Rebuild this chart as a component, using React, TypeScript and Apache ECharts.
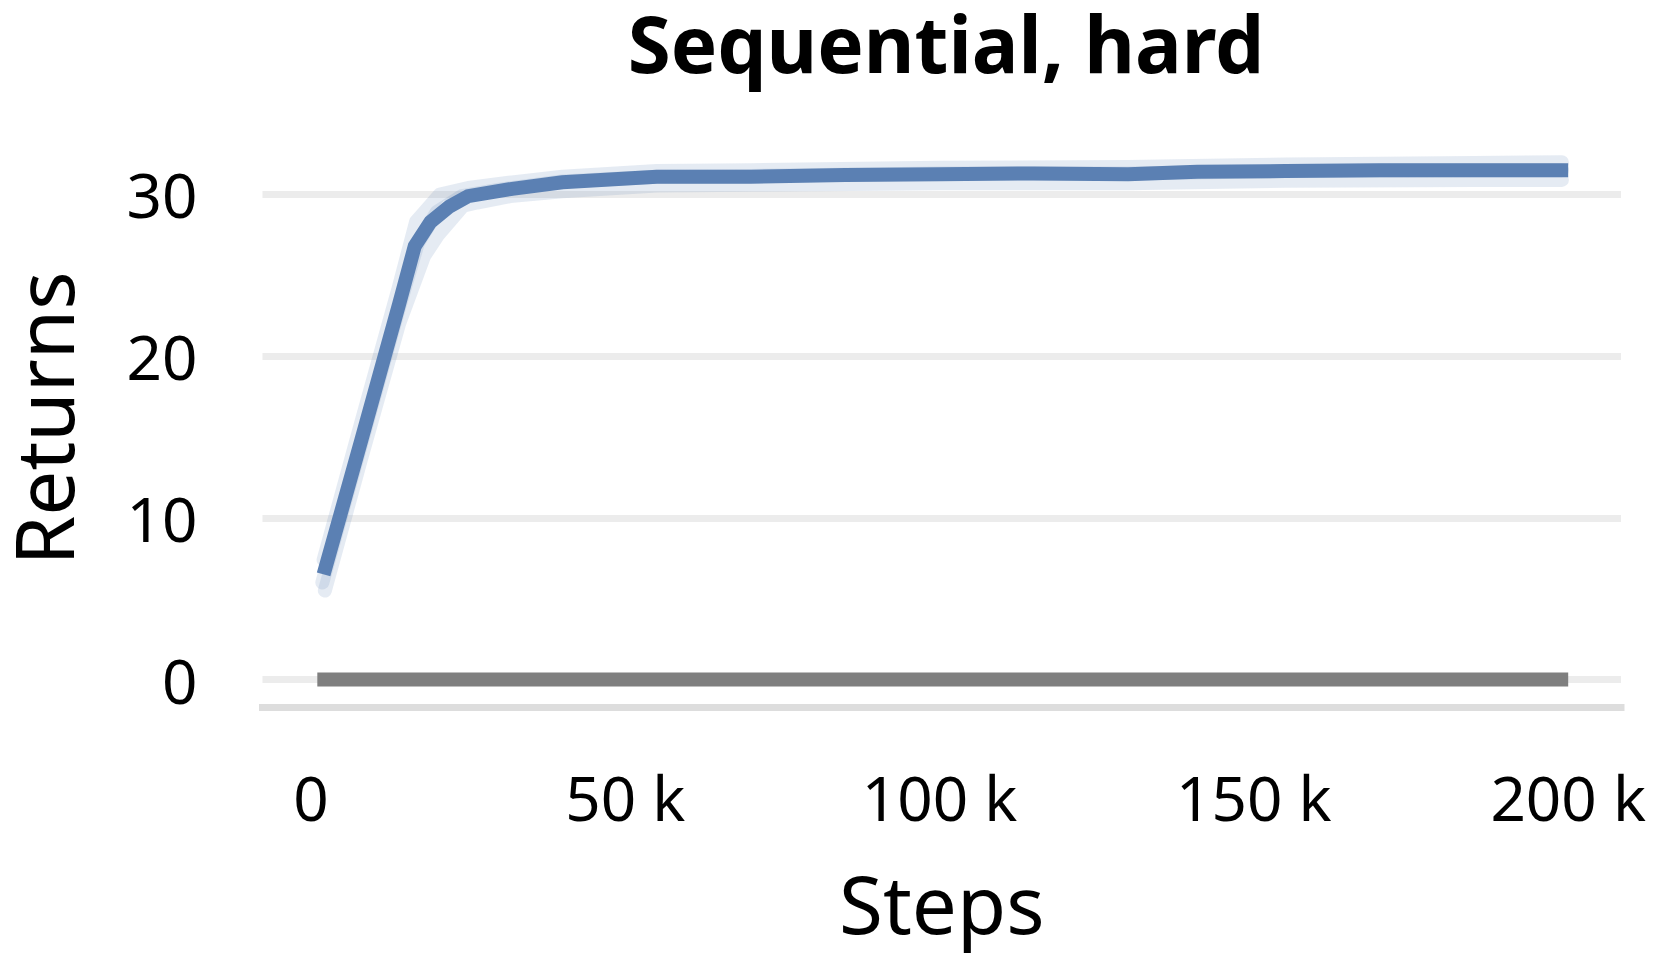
import React, { useEffect, useRef } from "react";
import * as echarts from "echarts";

// ---- data ----
const xTickValues = [0, 50000, 100000, 150000, 200000];
const yTickValues = [0, 10, 20, 30];

const meanSteps = [2000, 8000, 14000, 16500, 19000, 22000, 25000, 32000, 40000, 55000, 70000, 85000, 100000, 115000, 130000, 141000, 155000, 170000, 185000, 200000];
const meanReturns = [6.5, 14.8, 23.2, 26.8, 28.3, 29.25, 29.9, 30.35, 30.75, 31.1, 31.1, 31.2, 31.25, 31.3, 31.25, 31.4, 31.45, 31.5, 31.5, 31.5];

const upperSteps = [2000, 8000, 14000, 16700, 20500, 25000, 32000, 40000, 55000, 70000, 100000, 130000, 155000, 185000, 199000];
const upperReturns = [7.4, 15.9, 24.3, 28.3, 30.0, 30.4, 30.75, 31.1, 31.45, 31.5, 31.65, 31.7, 31.85, 31.95, 32.0];

const lowerSteps = [2200, 8000, 14000, 18000, 20200, 24200, 26400, 31700, 40000, 55000, 70000, 100000, 130000, 155000, 185000, 199000];
const lowerReturns = [5.5, 13.7, 22.0, 26.2, 27.5, 29.3, 29.5, 29.9, 30.2, 30.55, 30.6, 30.7, 30.7, 30.85, 30.9, 30.9];

const middleSteps = [1800, 8000, 14000, 17000, 20000, 24000, 30000, 40000, 55000, 70000, 100000, 130000, 155000, 185000, 199000];
const middleReturns = [6.0, 14.6, 23.0, 27.0, 28.9, 29.9, 30.3, 30.8, 31.1, 31.15, 31.3, 31.3, 31.45, 31.5, 31.5];

const baselineSteps = [1000, 200000];
const baselineReturns = [0, 0];

const zip = (xs: number[], ys: number[]) => xs.map((x, i) => [x, ys[i]]);

const FONT = "'Noto Sans', 'Open Sans', sans-serif";
const BLUE = "#5b80b3";

export default function App() {
  const ref = useRef<HTMLDivElement>(null);

  useEffect(() => {
    if (!ref.current) return;
    const chart = echarts.init(ref.current, null, { renderer: "svg" });
    const seedStyle = {
      color: BLUE,
      width: 14,
      opacity: 0.16,
      cap: "round",
      join: "round",
    };
    const seed = (xs: number[], ys: number[]) => ({
      type: "line",
      data: zip(xs, ys),
      showSymbol: false,
      silent: true,
      lineStyle: seedStyle,
      z: 1,
    });
    chart.setOption({
      animation: false,
      backgroundColor: "#ffffff",
      title: {
        text: "Sequential, hard",
        left: 941,
        textAlign: "center",
        top: 3,
        textStyle: { fontFamily: FONT, fontWeight: "bold", fontSize: 78, lineHeight: 70, color: "#000" },
      },
      grid: {
        left: 262.5,
        right: 36,
        top: 129.8,
        bottom: 252,
        containLabel: false,
        outerBoundsMode: "none",
      },
      xAxis: {
        type: "value",
        min: -7720,
        max: 208400,
        name: "Steps",
        nameLocation: "middle",
        nameGap: 155,
        nameTextStyle: { fontFamily: FONT, fontSize: 80, color: "#000" },
        axisLine: { show: true, onZero: false, lineStyle: { color: "#dddddd", width: 7, cap: "square" } },
        axisTick: { show: false, customValues: xTickValues },
        splitLine: { show: false },
        axisLabel: {
          customValues: xTickValues,
          margin: 59,
          fontFamily: FONT,
          fontSize: 62,
          color: "#000",
          formatter: (v: number) => (v === 0 ? "0" : `${v / 1000} k`),
        },
      },
      yAxis: {
        type: "value",
        min: -1.7,
        max: 34,
        name: "Returns",
        nameLocation: "middle",
        nameGap: 190,
        nameRotate: 90,
        nameTextStyle: { fontFamily: FONT, fontSize: 80, lineHeight: 60, color: "#000" },
        axisLine: { show: false },
        axisTick: { show: false, customValues: yTickValues },
        splitLine: { show: true, lineStyle: { color: "#ececec", width: 7 } },
        axisLabel: {
          customValues: yTickValues,
          margin: 65,
          fontFamily: FONT,
          fontSize: 62,
          color: "#000",
        },
      },
      series: [
        seed(upperSteps, upperReturns),
        seed(lowerSteps, lowerReturns),
        seed(middleSteps, middleReturns),
        {
          type: "line",
          data: zip(baselineSteps, baselineReturns),
          showSymbol: false,
          silent: true,
          lineStyle: { color: "#7f7f7f", width: 14, cap: "butt" },
          z: 2,
        },
        {
          type: "line",
          data: zip(meanSteps, meanReturns),
          showSymbol: false,
          silent: true,
          lineStyle: { color: BLUE, width: 14, cap: "butt", join: "miter" },
          z: 3,
        },
      ],
    });
    return () => chart.dispose();
  }, []);

  return (
    <div
      ref={ref}
      style={{ position: "fixed", left: 0, top: 0, width: 1657, height: 959, background: "#fff" }}
    />
  );
}
